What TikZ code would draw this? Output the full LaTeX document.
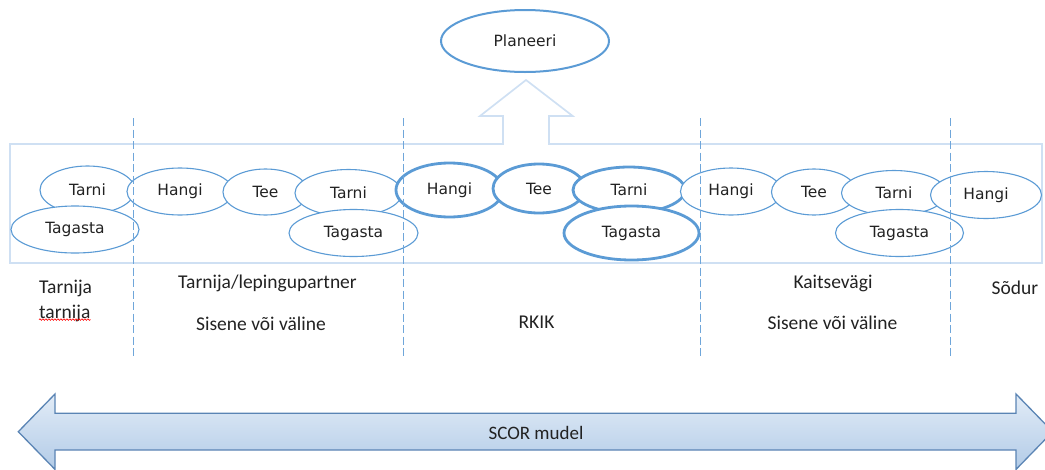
\documentclass[tikz,border=0pt]{standalone}
\usepackage{fontspec}
\usetikzlibrary{shapes.geometric,decorations.pathmorphing}
\newfontfamily\ovalfont{DejaVu Sans}
\newfontfamily\labelfont{Carlito}
\definecolor{ovalblue}{HTML}{5B9BD5}
\definecolor{framepale}{HTML}{CFE0F3}
\definecolor{dashblue}{HTML}{6FA6DA}
\definecolor{inkgray}{HTML}{222222}
\definecolor{scorline}{HTML}{5A84B4}
\definecolor{scortop}{HTML}{E2ECF7}
\definecolor{scorbot}{HTML}{B2CBE7}
\tikzset{
  oval/.style={ellipse, draw=ovalblue, fill=white, line width=1.1pt, inner sep=0pt,
    text=inkgray, font=\ovalfont\fontsize{15.5}{18}\selectfont},
  ovalbold/.style={oval, line width=2.8pt},
  tag/.style={text=inkgray, font=\labelfont\fontsize{19.5}{23}\selectfont, inner sep=0pt},
  divider/.style={draw=dashblue, line width=1pt, dash pattern=on 8pt off 3.5pt},
}
\begin{document}
\begin{tikzpicture}[x=1pt,y=-1pt]
\useasboundingbox (0,0) rectangle (1045,469);

% frame of the process row, opening upwards into the block arrow
\draw[framepale, line width=1.7pt, line join=miter]
  (10,144) -- (503,144) -- (503,116) -- (480,116) -- (526,80) -- (572.7,116)
  -- (549,116) -- (549,144) -- (1042,144) -- (1042,263) -- (10,263) -- cycle;

% planning
\node[oval, line width=2pt, minimum width=168pt, minimum height=62pt] (plan) at (525,41) {Planeeri};

% supplier's supplier
\node[oval, minimum width=95pt, minimum height=48pt] (s1tarni) at (87.5,190) {Tarni};
\node[oval, minimum width=128pt, minimum height=47pt] (s1tagasta) at (75,229.5) {Tagasta};

% supplier / contract partner
\node[oval, minimum width=106pt, minimum height=47pt] (s2hangi) at (180,191.5) {Hangi};
\node[oval, minimum width=85pt, minimum height=46pt] (s2tee) at (265.5,192) {Tee};
\node[oval, minimum width=107pt, minimum height=47pt] (s2tarni) at (348.5,193) {Tarni};
\node[oval, minimum width=129pt, minimum height=47pt] (s2tagasta) at (353.5,233) {Tagasta};

% RKIK
\node[ovalbold, minimum width=107pt, minimum height=54pt] (rhangi) at (449.5,190) {Hangi};
\node[ovalbold, minimum width=92pt, minimum height=49pt] (rtee) at (539,188.5) {Tee};
\node[ovalbold, minimum width=112pt, minimum height=46pt] (rtarni) at (629,190) {Tarni};
\node[ovalbold, minimum width=135pt, minimum height=54pt] (rtagasta) at (631.5,233) {Tagasta};

% defence forces
\node[oval, minimum width=101pt, minimum height=47pt] (khangi) at (731,191.5) {Hangi};
\node[oval, minimum width=85pt, minimum height=46pt] (ktee) at (814,192) {Tee};
\node[oval, minimum width=105pt, minimum height=45pt] (ktarni) at (894,193) {Tarni};
\node[oval, minimum width=128pt, minimum height=47pt] (ktagasta) at (899.5,233) {Tagasta};

% soldier
\node[oval, minimum width=111pt, minimum height=47pt] (shangi) at (986,195) {Hangi};

% dashed dividers between the parties
\foreach \x/\n in {133/d1,403/d2,700/d3,950/d4}{
  \coordinate (\n top) at (\x,118);
  \coordinate (\n bot) at (\x,358);
  \draw[divider] (\n top) -- (\n bot);
}

% party labels
\node[tag, anchor=west] (lbl1a) at (39,288) {Tarnija};
\node[tag, anchor=west] (lbl1b) at (39,313) {tarnija};
\draw[red, line width=0.6pt, decorate, decoration={snake, segment length=3pt, amplitude=0.8pt}]
  ([yshift=2pt]lbl1b.south west) -- ([yshift=2pt]lbl1b.south east);
\node[tag] (lbl2a) at (267.5,283) {Tarnija/lepingupartner};
\node[tag] (lbl2b) at (261,324) {Sisene või väline};
\node[tag] (lbl3) at (536.5,322) {RKIK};
\node[tag] (lbl4a) at (833,283) {Kaitsevägi};
\node[tag] (lbl4b) at (832.5,323) {Sisene või väline};
\node[tag] (lbl5) at (1015,288) {Sõdur};

% SCOR model double arrow
\path[draw=scorline, line width=1.3pt, line join=miter, top color=scortop, bottom color=scorbot]
  (18.3,431.7) -- (55,394) -- (55,413.3) -- (1016,413.3) -- (1016,394) -- (1052.7,431.7)
  -- (1016,469.4) -- (1016,450) -- (55,450) -- (55,469.4) -- cycle;
\node[tag, font=\labelfont\fontsize{19}{22}\selectfont] (scor) at (536,433) {SCOR mudel};
\end{tikzpicture}
\end{document}
